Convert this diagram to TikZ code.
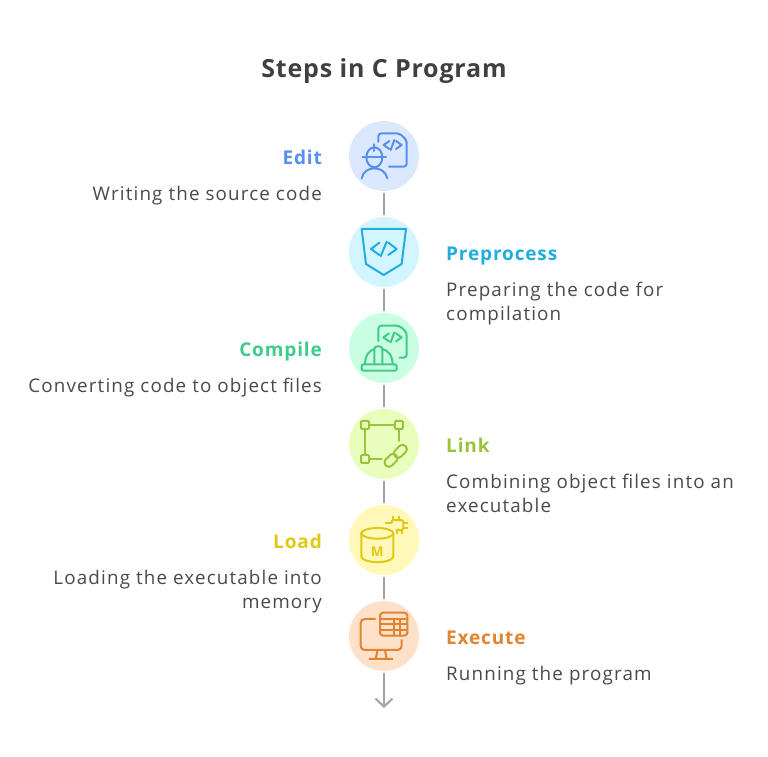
\documentclass[tikz,border=0pt]{standalone}
\usepackage{fontspec}
\setmainfont{Open Sans}
\newfontfamily\descfont[LetterSpace=6.1]{Open Sans}
\newfontfamily\headfont[LetterSpace=4.5,BoldFont={Open Sans Bold}]{Open Sans}
\newfontfamily\titlefont[LetterSpace=3.3,BoldFont={Open Sans Bold}]{Open Sans}
\usetikzlibrary{arrows.meta}
\definecolor{txt}{HTML}{4A4A4A}
\definecolor{ttl}{HTML}{404040}
\definecolor{conn}{HTML}{A3A3A3}
\definecolor{cA}{HTML}{5590F0}\definecolor{fA}{HTML}{DCE8FF}
\definecolor{cB}{HTML}{22AEDD}\definecolor{fB}{HTML}{D2F5FF}
\definecolor{cC}{HTML}{3FCB8C}\definecolor{fC}{HTML}{C9FEE3}
\definecolor{cD}{HTML}{9BC23A}\definecolor{fD}{HTML}{E9FDBD}
\definecolor{cE}{HTML}{E0C814}\definecolor{fE}{HTML}{FFF8B8}
\definecolor{cF}{HTML}{E08430}\definecolor{fF}{HTML}{FFE0C9}
\tikzset{
  disc/.style={circle,minimum size=70pt,inner sep=0pt,outer sep=0pt,fill=#1},
  conline/.style={draw=conn,line width=2pt,shorten >=2pt,shorten <=2pt},
  headL/.style={anchor=base east,inner sep=0pt,font=\headfont\fontsize{19}{24}\selectfont\bfseries,text=#1},
  headR/.style={anchor=base west,inner sep=0pt,font=\headfont\fontsize{19}{24}\selectfont\bfseries,text=#1},
  descL/.style={anchor=base east,align=right,inner sep=0pt,font=\descfont\fontsize{18.8}{24}\selectfont,text=txt},
  descR/.style={anchor=base west,align=left,inner sep=0pt,font=\descfont\fontsize{18.8}{24}\selectfont,text=txt},
  icon/.style={x=0.3333pt,y=-0.3333pt,line width=2pt,line cap=round,line join=round,draw=#1},
}
\begin{document}
\begin{tikzpicture}[x=1pt,y=-1pt]
\useasboundingbox (0,0) rectangle (768,756);
\fill[white] (0,0) rectangle (768,756);
\node[anchor=base,font=\titlefont\fontsize{25}{30}\selectfont\bfseries,text=ttl] (title) at (384,77) {Steps in C Program};
\node[disc=fA] (c1) at (384,156) {};
\node[disc=fB] (c2) at (384,252) {};
\node[disc=fC] (c3) at (384,348) {};
\node[disc=fD] (c4) at (384,444) {};
\node[disc=fE] (c5) at (384,540) {};
\node[disc=fF] (c6) at (384,636) {};
\coordinate (end) at (384,708);
\draw[conline] (c1) -- (c2);
\draw[conline] (c2) -- (c3);
\draw[conline] (c3) -- (c4);
\draw[conline] (c4) -- (c5);
\draw[conline] (c5) -- (c6);
\draw[conline,shorten >=0pt,-{Straight Barb[length=8pt,width=17pt,line width=2pt]}] (c6) -- (end);
% labels
\node[headL=cA] (t1) at (322,164) {Edit};
\node[descL] (d1) at (322,200) {Writing the source code};
\node[headR=cB] (t2) at (446,260) {Preprocess};
\node[descR,anchor=north west] (d2) at (446,282) {Preparing the code for\\compilation};
\node[headL=cC] (t3) at (322,356) {Compile};
\node[descL] (d3) at (322,392) {Converting code to object files};
\node[headR=cD] (t4) at (446,452) {Link};
\node[descR,anchor=north west] (d4) at (446,474) {Combining object files into an\\executable};
\node[headL=cE] (t5) at (322,548) {Load};
\node[descL,anchor=north east] (d5) at (322,570) {Loading the executable into\\memory};
\node[headR=cF] (t6) at (446,644) {Execute};
\node[descR] (d6) at (446,680) {Running the program};
% icon 1
\begin{scope}[shift={(340,115)},icon=cA]
\draw[rounded corners=3pt] (115,80)--(115,55)--(178,55)--(200,75)--(200,155)--(147,155);
\draw (148,78)--(131,90)--(148,102) (168,78)--(185,90)--(168,102) (163,75)--(152,105);
\draw (103,127) ellipse[x radius=24,y radius=30];
\draw (68,125)--(138,125);
\draw (103,88)--(103,108);
\draw (65,190) .. controls (72,150) and (134,150) .. (142,190);
\end{scope}
% icon 2
\begin{scope}[shift={(340,115)},icon=cB]
\draw (65,342)--(198,342)--(185,447)--(131,480)--(78,447)--cycle;
\draw (118,383)--(93,402)--(118,420) (145,383)--(170,402)--(145,420) (140,380)--(122,424);
\end{scope}
% icon 3
\begin{scope}[shift={(340,305)},icon=cC]
\draw[rounded corners=3pt] (115,108)--(115,62)--(178,62)--(200,82)--(200,158)--(178,158);
\draw (147,85)--(130,97)--(147,109) (168,85)--(185,97)--(168,109) (163,82)--(152,112);
\draw[rounded corners=2pt] (65,178) rectangle (170,197);
\draw (75,178) .. controls (75,150) and (90,135) .. (103,132);
\draw (127,132) .. controls (142,135) and (158,150) .. (158,178);
\draw[rounded corners=3pt] (103,178)--(103,124)--(127,124)--(127,178);
\end{scope}
% icon 4
\begin{scope}[shift={(340,305)},icon=cD]
\draw[rounded corners=1pt] (63,348) rectangle (87,372);
\draw[rounded corners=1pt] (165,348) rectangle (189,372);
\draw[rounded corners=1pt] (63,450) rectangle (87,474);
\draw (87,360)--(165,360) (75,372)--(75,450) (177,372)--(177,408) (87,462)--(125,462);
\draw[rounded corners=4pt] (177.7,459.7)--(159.3,441.3)--(128.3,472.3)--(146.7,490.7)--cycle;
\draw[rounded corners=4pt] (205.7,432.7)--(187.3,414.3)--(156.3,445.3)--(174.7,463.7)--cycle;
\end{scope}
% icon 5
\begin{scope}[shift={(340,500)},icon=cE]
\draw (112,100) ellipse[x radius=48,y radius=16];
\draw (64,100)--(64,170) .. controls (70,192) and (154,192) .. (160,170)--(160,100);
\node[text=cE,inner sep=0pt,font=\fontsize{13.5}{14}\selectfont\bfseries] (mm) at (112,156) {M};
\draw[rounded corners=2pt] (155,68)--(155,60)--(190,60)--(190,90)--(170,90);
\draw (158,50)--(158,60) (178,50)--(178,60) (190,68)--(202,68) (190,85)--(202,85) (138,68)--(155,68) (170,90)--(170,100) (187,90)--(187,100);
\end{scope}
% icon 6
\begin{scope}[shift={(340,500)},icon=cF]
\draw[rounded corners=4pt] (105,357)--(62,357)--(62,450)--(185,450)--(185,420);
\draw (113,450)--(107,477) (135,450)--(140,477) (88,477)--(157,477);
\draw[rounded corners=3pt] (120,338) rectangle (202,407);
\draw (120,357)--(202,357) (120,373)--(202,373) (120,390)--(202,390) (162,357)--(162,407) (180,357)--(180,407);
\end{scope}
\end{tikzpicture}
\end{document}
